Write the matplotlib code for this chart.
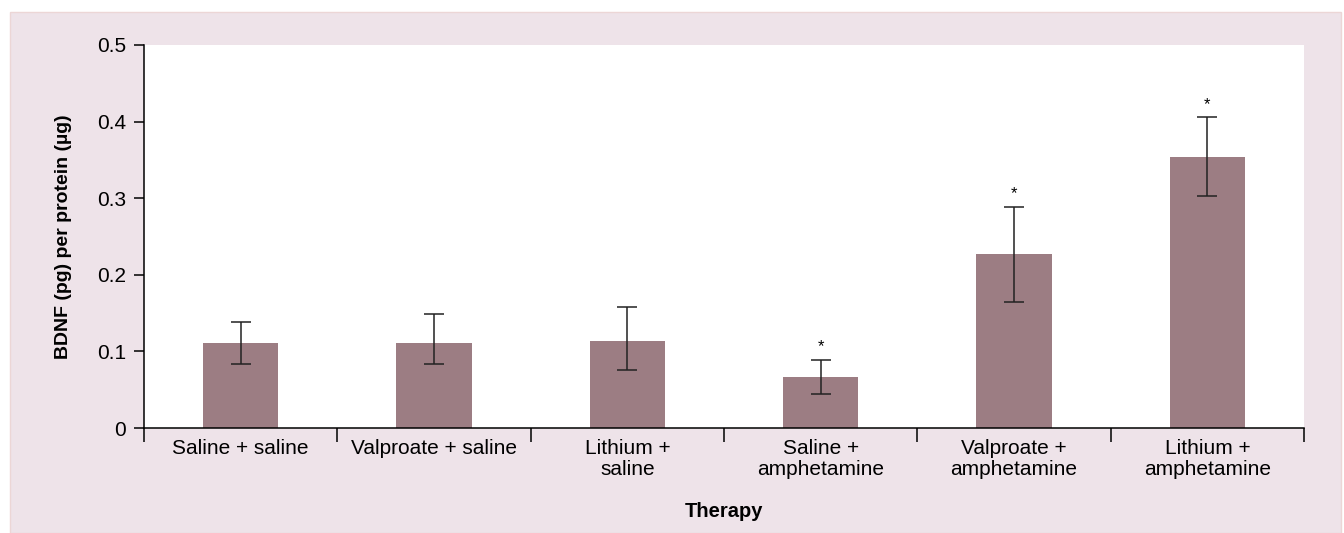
import numpy as np
import matplotlib.pyplot as plt
from matplotlib.patches import Rectangle

# BDNF levels per treatment group
groups = ["Saline + saline", "Valproate + saline", "Lithium +\nsaline",
          "Saline +\namphetamine", "Valproate +\namphetamine", "Lithium +\namphetamine"]
bdnf_mean = [0.111, 0.111, 0.114, 0.067, 0.227, 0.354]
err_low = [0.028, 0.028, 0.038, 0.022, 0.062, 0.051]
err_high = [0.028, 0.038, 0.044, 0.022, 0.062, 0.052]
significant = [False, False, False, True, True, True]

BAR_COLOR = "#9c7d83"
PANEL_COLOR = "#eee3e9"

plt.rcParams["font.family"] = ["Liberation Sans", "DejaVu Sans"]

fig = plt.figure(figsize=(13.44, 5.33), dpi=100)
panel = Rectangle((10 / 1344, 0), 1331 / 1344, 1 - 12 / 533,
                  transform=fig.transFigure, facecolor=PANEL_COLOR,
                  edgecolor="#ecd6d6", linewidth=1.0, zorder=-10)
fig.add_artist(panel)

ax = fig.add_axes([144 / 1344, 1 - 428 / 533, 1160 / 1344, 383 / 533])
ax.set_zorder(1)
ax.set_facecolor("white")

x = np.arange(len(groups))
ax.bar(x, bdnf_mean, width=0.39, color=BAR_COLOR, zorder=2)
ax.errorbar(x, bdnf_mean, yerr=[err_low, err_high], fmt="none",
            ecolor="#222222", elinewidth=1.1, capsize=7.5, capthick=1.1, zorder=3)

for xi, m, hi, sig in zip(x, bdnf_mean, err_high, significant):
    if sig:
        ax.text(xi, m + hi + 0.007, "*", ha="center", va="bottom", fontsize=12)

ax.set_xlim(-0.5, len(groups) - 0.5)
ax.set_ylim(0, 0.5)
ax.set_yticks([0, 0.1, 0.2, 0.3, 0.4, 0.5])
ax.set_yticklabels(["0", "0.1", "0.2", "0.3", "0.4", "0.5"])

# category ticks sit on the group boundaries, labels in between
ax.set_xticks(np.arange(len(groups) + 1) - 0.5)
ax.set_xticklabels([])
ax.set_xticks(x, minor=True)
ax.set_xticklabels(groups, minor=True, fontsize=15, linespacing=1.1)
ax.tick_params(axis="x", which="major", direction="out", length=10, width=1.1)
ax.tick_params(axis="x", which="minor", length=0, pad=8)
ax.tick_params(axis="y", direction="out", length=7, width=1.1, labelsize=15, pad=6)

for side in ("top", "right"):
    ax.spines[side].set_visible(False)
for side in ("left", "bottom"):
    ax.spines[side].set_linewidth(1.1)

ax.set_ylabel("BDNF (pg) per protein (µg)", fontsize=14, fontweight="bold", labelpad=18)
ax.set_xlabel("Therapy", fontsize=14.5, fontweight="bold", labelpad=17)

fig.savefig("out.png", dpi=100)
